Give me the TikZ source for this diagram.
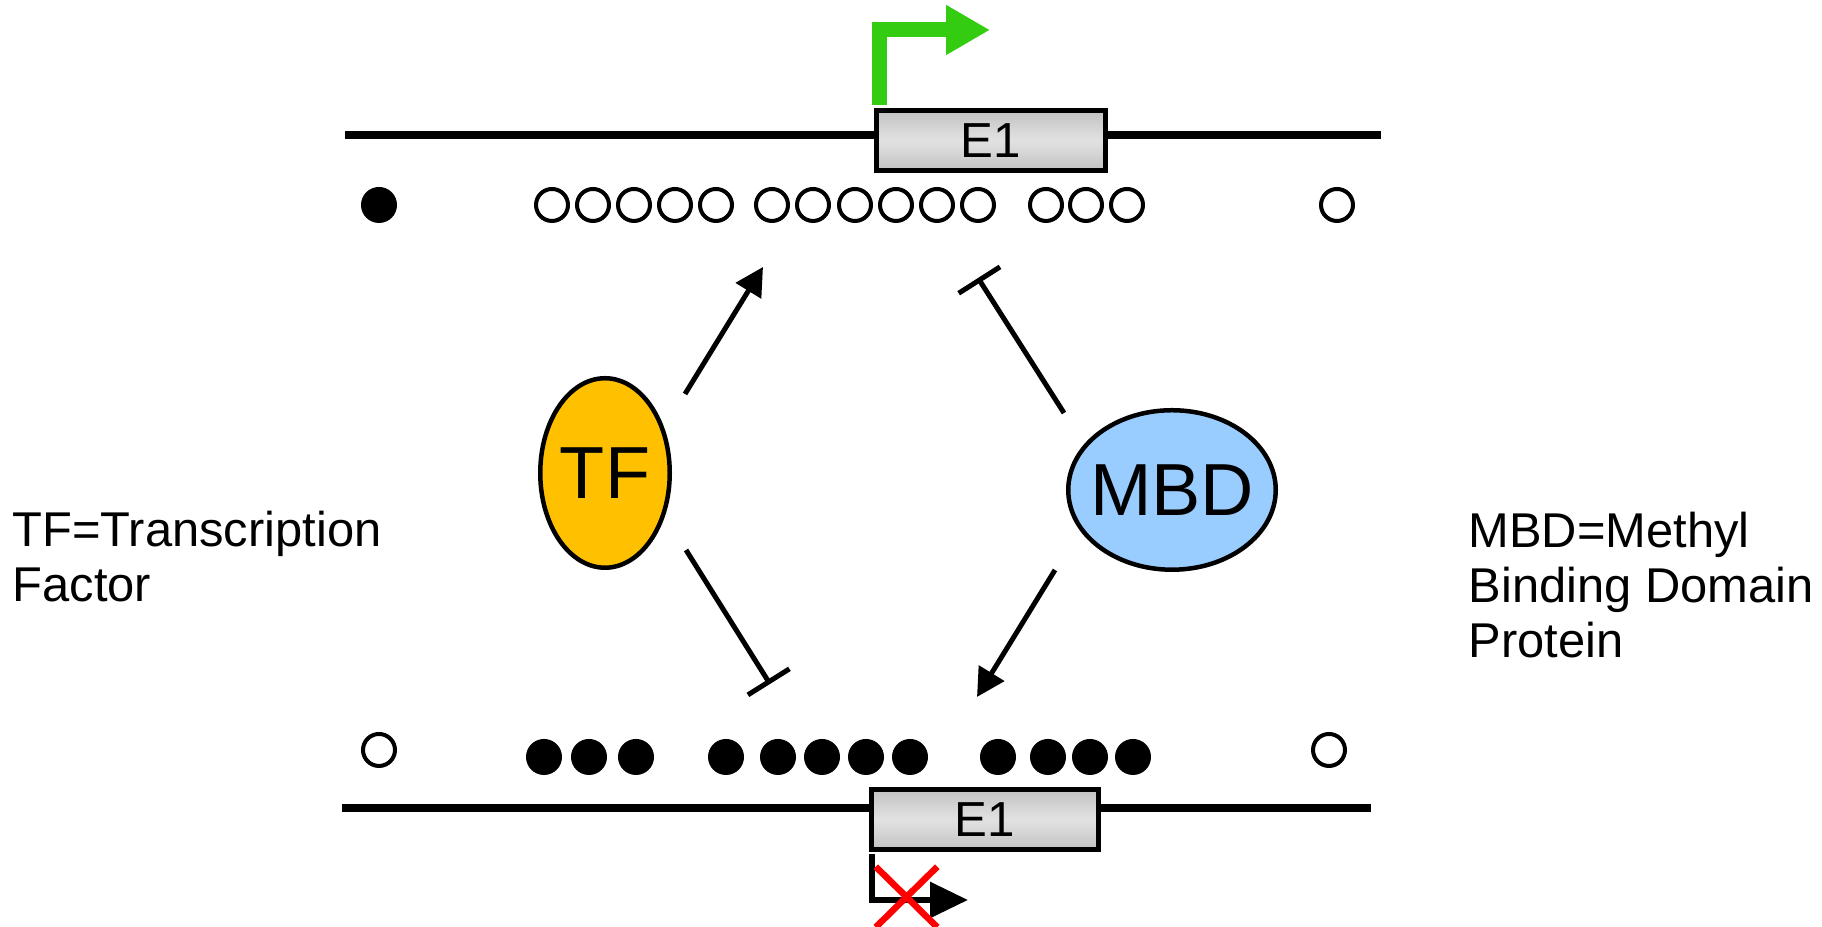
\documentclass[tikz,border=0pt]{standalone}
\usepackage{fontspec}
\setmainfont{Liberation Sans}
\usepackage{tikz}
\usetikzlibrary{arrows.meta,positioning,shapes.geometric,shapes.misc,calc}
\definecolor{tfgold}{HTML}{FFC000}
\definecolor{mbdblue}{HTML}{99CCFF}
\definecolor{tssgreen}{HTML}{33CC11}
\definecolor{exgray}{HTML}{C2C2C2}
\definecolor{exlight}{HTML}{E2E2E2}

\begin{document}
\begin{tikzpicture}[x=0.1mm,y=0.1mm,
		dna/.style={line width=0.8mm},
		ex/.style={rectangle,draw,line width=0.5mm,top color=exgray,bottom color=exgray,middle color=exlight,
				minimum height=6mm,inner sep=0pt,font=\fontsize{14}{14}\selectfont},
		cg/.style={circle,draw,line width=0.4mm,fill=white,minimum size=3.2mm,inner sep=0pt},
		mcg/.style={cg,fill=black},
		prot/.style={ellipse,draw,line width=0.45mm,inner sep=0pt,font=\fontsize{21}{21}\selectfont},
		act/.style={-{Triangle[length=2.8mm,width=2.9mm]},line width=0.5mm},
		inh/.style={-{Bar[width=4.9mm]},line width=0.5mm},
		tss/.style={draw=tssgreen,line width=1.5mm,-{Triangle[length=4.4mm,width=4.7mm]}},
		tssoff/.style={line width=0.6mm,-{Triangle[length=3.8mm,width=3.5mm]}},
		note/.style={align=left,anchor=base west,inner sep=0pt,font=\fontsize{13.9}{15.65}\selectfont}
		]
		\useasboundingbox (0,0) rectangle (1822,927);

		% active gene, unmethylated
		\coordinate (topw) at (345,792);
		\coordinate (tope) at (1381,792);
		\draw[dna] (topw) -- (tope);
		\node[ex,minimum width=22.9mm] (e1top) at (991,786.5) {E1};
		\coordinate (tsstop) at (990,897);
		\draw[tss] ([xshift=0.5mm,yshift=0.25mm]e1top.north west) |- (tsstop);
		\node[mcg] (u0) at (379,722) {};
		\foreach \x [count=\i] in {552,593,634,675,716,772,813,855,896,937,978,1046,1086,1127}
			\node[cg] (u\i) at (\x,722) {};
		\node[cg] (u15) at (1337,722) {};

		% silenced gene, methylated
		\coordinate (botw) at (342,119);
		\coordinate (bote) at (1371,119);
		\draw[dna] (botw) -- (bote);
		\node[ex,minimum width=22.7mm] (e1bot) at (985,107.5) {E1};
		\coordinate (tssbot) at (968,27);
		\draw[tssoff] ([xshift=0.3mm,yshift=-0.25mm]e1bot.south west) |- (tssbot);
		\node[cross out,draw=red,line width=0.65mm,minimum width=5.5mm,minimum height=5.4mm,inner sep=0pt] (noexp) at (906.5,30) {};
		\node[cg] (m0) at (379,177) {};
		\foreach \x [count=\i] in {544,589,636,726,778,822,866,910,998,1048,1090,1133}
			\node[mcg] (m\i) at (\x,170) {};
		\node[cg] (m13) at (1329,177) {};

		% proteins
		\node[prot,fill=tfgold,minimum width=12.95mm,minimum height=18.95mm] (tf) at (605,454) {TF};
		\node[prot,fill=mbdblue,inner xsep=-2mm,minimum width=20.75mm,minimum height=15.95mm] (mbd) at (1172,437) {MBD};

		\coordinate (tfa) at (685,533);
		\coordinate (topa) at (763,660);
		\coordinate (tfi) at (686,377);
		\coordinate (boti) at (770,243);
		\coordinate (mbdi) at (1064,514);
		\coordinate (topi) at (978,649);
		\coordinate (mbda) at (1055,357);
		\coordinate (bota) at (977,230);
		\draw[act] (tfa) -- (topa);
		\draw[inh] (tfi) -- (boti);
		\draw[inh] (mbdi) -- (topi);
		\draw[act] (mbda) -- (bota);

		% key (base is the last line)
		\node[note] (tfkey) at (12,325) {TF=Transcription\\Factor};
		\node[note] (mbdkey) at (1468,269) {MBD=Methyl\\Binding Domain\\Protein};
	\end{tikzpicture}
\end{document}
